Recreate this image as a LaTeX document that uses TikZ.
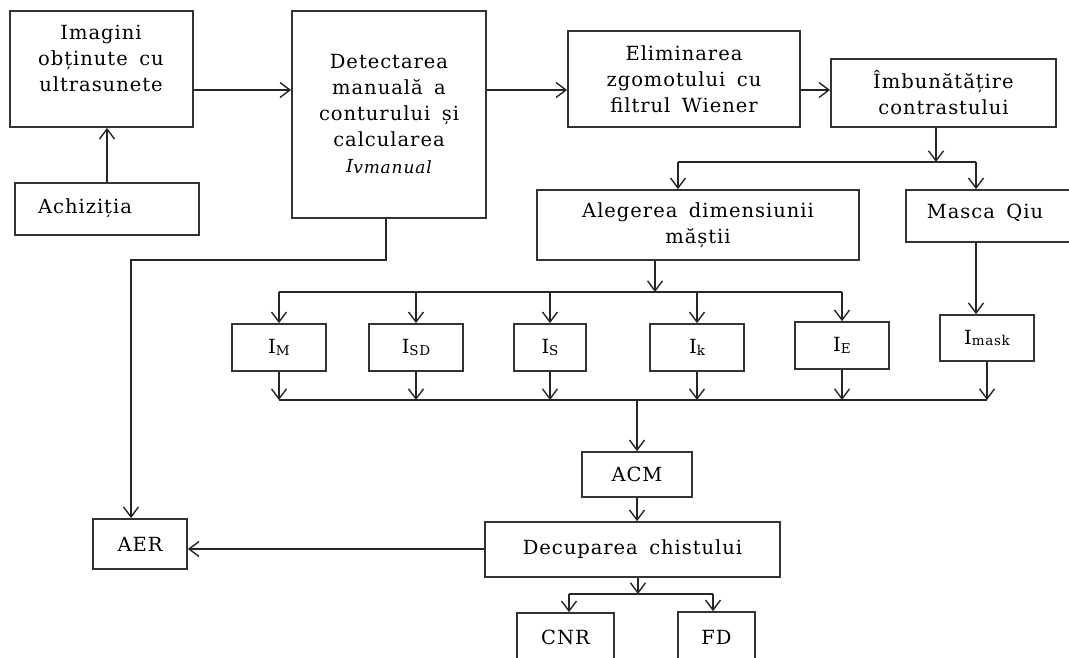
\documentclass[tikz,border=0pt]{standalone}
\usepackage{fontspec}
\setmainfont{DejaVu Serif}[LetterSpace=5,WordSpace=1.6]
\usetikzlibrary{arrows.meta}
% box with corners (x1,y1)-(x2,y2) and centred text
\newcommand\panel[6]{%
  \node[box,minimum width={#4-#2},minimum height={#5-#3}] (#1)
    at ({(#2+#4)/2},{(#3+#5)/2}) {#6};}
\newcommand\ix[1]{\raisebox{-1.5pt}{\fontsize{13.5}{13.5}\selectfont #1}}
\begin{document}
\begin{tikzpicture}[x=1pt,y=-1pt,
  box/.style={draw=black!80,line width=1.7pt,inner sep=0pt,align=center,
    font=\fontsize{19.5}{26}\selectfont},
  txt/.style={align=center,inner sep=0pt,font=\fontsize{19.5}{26}\selectfont},
  wire/.style={draw=black!85,line width=1.5pt},
  link/.style={wire,-{Straight Barb[length=10pt,width=15pt,line width=1.4pt]}}]
\useasboundingbox (0,0) rectangle (1069,657);

% boxes
\panel{img}{10}{11}{193}{127}{}
\node[txt] (imgt) at (101,58) {Imagini\\obținute cu\\ultrasunete};
\panel{achiz}{15}{183}{199}{235}{}
\node[txt] (achizt) at (85,208) {Achiziția};
\panel{detect}{292}{11}{486}{218}{Detectarea\\manuală a\\conturului și\\calcularea\\
  {\itshape\fontsize{18}{18}\selectfont I\raisebox{-1pt}{\fontsize{17}{17}\selectfont vmanual}}}
\panel{elim}{568}{31}{800}{127}{Eliminarea\\zgomotului cu\\filtrul Wiener}
\panel{imb}{831}{59}{1056}{127}{Îmbunătățire\\contrastului}
\panel{aleg}{537}{190}{859}{260}{Alegerea dimensiunii\\măștii}
\panel{masca}{906}{190}{1090}{242}{}
\node[txt] (mascat) at (985,213) {Masca Qiu};
\panel{IM}{232}{324}{326}{371}{I\ix{M}}
\panel{ISD}{369}{324}{463}{371}{I\ix{SD}}
\panel{IS}{514}{324}{586}{371}{I\ix{S}}
\panel{Ik}{650}{324}{744}{371}{I\ix{k}}
\panel{IE}{795}{322}{889}{369}{I\ix{E}}
\panel{Imask}{940}{315}{1034}{361}{I\ix{mask}}
\panel{ACM}{582}{452}{692}{497}{ACM}
\panel{AER}{93}{519}{187}{569}{AER}
\panel{decup}{485}{522}{780}{577}{Decuparea chistului}
\panel{CNR}{517}{613}{614}{662}{CNR}
\panel{FD}{678}{612}{755}{662}{FD}

% top row
\coordinate (row) at (0,90);
\draw[link] (img.east |- row) -- (detect.west |- row);
\draw[link] (detect.east |- row) -- (elim.west |- row);
\draw[link] (elim.east |- row) -- (imb.west |- row);
\draw[link] (achiz.north) -- (achiz.north |- img.south);

% contrast -> mask branches
\coordinate (j1) at (936,162);
\coordinate (b1l) at (678,162);
\coordinate (b1r) at (976,162);
\draw[link] (j1 |- imb.south) -- (j1);
\draw[wire] (b1l) -- (b1r);
\draw[link] (b1l) -- (b1l |- aleg.north);
\draw[link] (b1r) -- (b1r |- masca.north);
\draw[link] (b1r |- masca.south) -- (b1r |- Imask.north);

% mask size -> feature images
\coordinate (j2) at (655,292);
\draw[link] (j2 |- aleg.south) -- (j2);
\draw[wire] (IM.north |- j2) -- (IE.north |- j2);
\foreach \n in {IM,ISD,IS,Ik,IE}
  \draw[link] (\n.north |- j2) -- (\n.north);

% feature images -> ACM
\coordinate (j3) at (637,400);
\foreach \n in {IM,ISD,IS,Ik,IE,Imask}
  \draw[link] (\n.south) -- (\n.south |- j3);
\draw[wire] (IM.south |- j3) -- (Imask.south |- j3);
\draw[link] (j3) -- (j3 |- ACM.north);
\draw[link] (ACM.south) -- (ACM.south |- decup.north);

% manual contour -> AER
\coordinate (k) at (386,260);
\coordinate (kl) at (131,260);
\draw[link] (k |- detect.south) -- (k) -- (kl) -- (kl |- AER.north);
\coordinate (r2) at (0,549);
\draw[link] (decup.west |- r2) -- (AER.east |- r2);

% cyst cropping -> CNR, FD
\coordinate (j4) at (638,594);
\coordinate (b4l) at (569,594);
\coordinate (b4r) at (713,594);
\draw[link] (j4 |- decup.south) -- (j4);
\draw[wire] (b4l) -- (b4r);
\draw[link] (b4l) -- (b4l |- CNR.north);
\draw[link] (b4r) -- (b4r |- FD.north);
\end{tikzpicture}
\end{document}
